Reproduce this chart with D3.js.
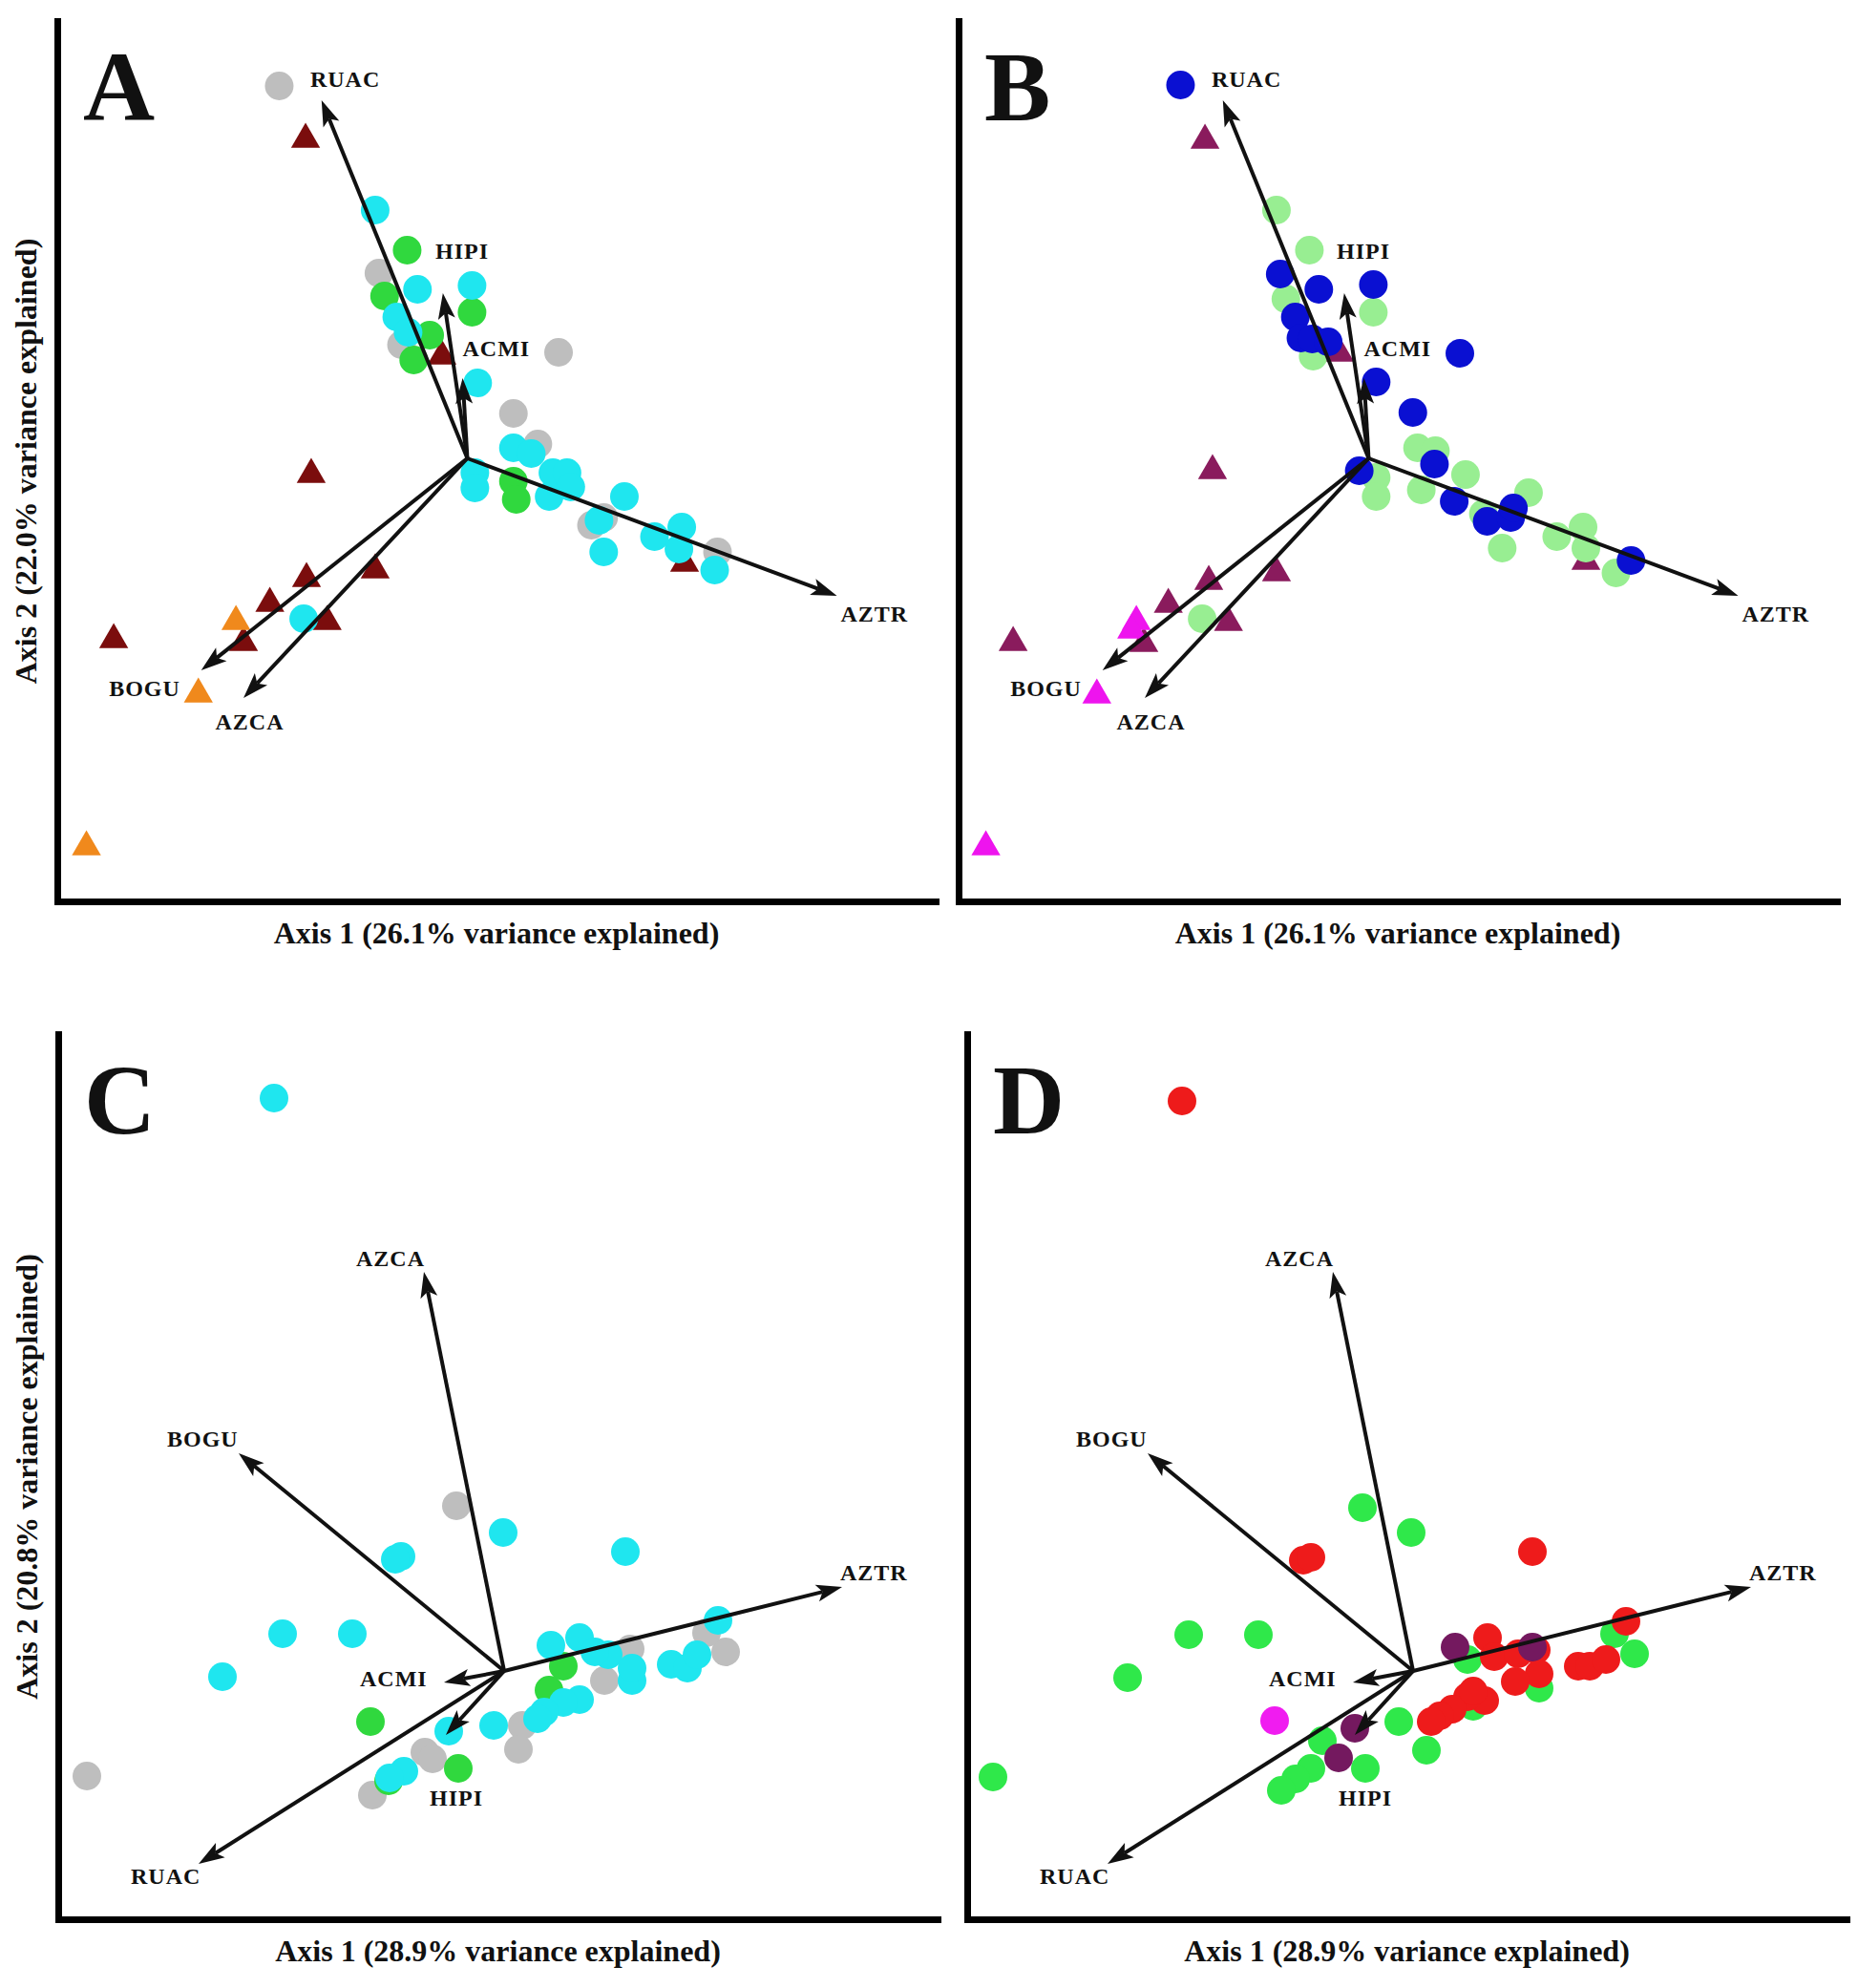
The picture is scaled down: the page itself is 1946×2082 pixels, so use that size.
<!DOCTYPE html>
<html>
<head>
<meta charset="utf-8">
<script src="https://cdn.jsdelivr.net/npm/d3@7"></script>
<style>
  body { margin: 0; background: #fff; }
  text { font-family: "Liberation Serif", "DejaVu Serif", serif; font-weight: bold; fill: #111; }
</style>
</head>
<body>
<svg id="chart"></svg>
<script>
// ordination scores (same ordination for A/B and for C/D)
const abXDomain = [-4.36, 4.98];
const abYDomain = [-4.64, 4.58];
const cdXDomain = [-4.67, 4.54];
const cdYDomain = [-2.60, 6.67];

// species vectors, panels A and B
const abVarNames = ["RUAC", "HIPI", "ACMI", "AZTR", "BOGU", "AZCA"];
const abVecX = [-1.55, -0.26, -0.05, 3.93, -2.83, -2.38];
const abVecY = [3.75, 1.73, 0.84, -1.44, -2.22, -2.51];
const abLabX = [-1.67, -0.34, -0.05, 3.97, -3.81, -2.68];
const abLabY = [3.97, 2.17, 1.15, -1.63, -2.41, -2.76];

// species vectors, panels C and D
const cdVarNames = ["AZCA", "BOGU", "AZTR", "ACMI", "HIPI", "RUAC"];
const cdVecX = [-0.84, -2.78, 3.54, -0.63, -0.61, -3.20];
const cdVecY = [4.18, 2.28, 0.88, -0.12, -0.67, -2.02];
const cdLabX = [-1.55, -3.53, 3.52, -1.51, -0.78, -3.91];
const cdLabY = [4.32, 2.43, 1.03, -0.08, -1.33, -2.15];

// panel A sample scores
const aMaroon = [[-1.72,3.34],[-1.66,-0.17],[-0.98,-1.17],[-1.71,-1.26],[-2.10,-1.52],[-1.49,-1.71],[-2.38,-1.93],[-3.76,-1.90],[-0.27,1.07],[2.31,-1.10]];
const aOrange = [[-2.46,-1.71],[-2.86,-2.47],[-4.05,-4.07]];
const aGrey = [[-2.00,3.90],[-0.94,1.94],[-0.70,1.19],[0.97,1.11],[0.49,0.47],[0.75,0.15],[1.32,-0.70],[1.45,-0.62],[2.66,-0.98]];
const aGreen = [[-0.64,2.18],[0.05,1.53],[-0.88,1.70],[-0.40,1.29],[-0.57,1.03],[0.49,-0.24],[0.52,-0.43]];
const aCyan = [[-0.98,2.60],[-0.53,1.77],[0.05,1.81],[-0.75,1.48],[-0.63,1.32],[0.11,0.79],[0.49,0.11],[0.68,0.05],[0.08,-0.15],[0.08,-0.31],[0.91,-0.15],[1.06,-0.15],[0.87,-0.40],[1.10,-0.30],[1.67,-0.40],[1.40,-0.65],[1.45,-0.98],[1.99,-0.82],[2.28,-0.72],[2.25,-0.95],[2.63,-1.17],[-1.74,-1.68]];

// panel B sample scores
const bPlum = [[-1.74,3.33],[-1.66,-0.13],[-0.98,-1.20],[-1.70,-1.29],[-2.13,-1.53],[-1.49,-1.72],[-2.39,-1.94],[-3.78,-1.93],[-0.31,1.10],[2.31,-1.08]];
const bMagenta = [[-2.47,-1.71],[-2.52,-1.80],[-2.89,-2.48],[-4.07,-4.07]];
const bLightGreen = [[-0.98,2.60],[-0.63,2.18],[0.05,1.53],[-0.88,1.67],[-0.59,1.07],[0.52,0.11],[0.71,0.08],[1.03,-0.17],[0.08,-0.20],[0.08,-0.40],[0.56,-0.33],[1.22,-0.58],[1.70,-0.36],[1.42,-0.94],[2.00,-0.82],[2.28,-0.72],[2.31,-0.94],[2.63,-1.20],[-1.77,-1.68]];
const bBlue = [[-2.00,3.91],[-0.94,1.93],[-0.53,1.77],[0.05,1.82],[-0.78,1.48],[-0.72,1.26],[-0.60,1.25],[-0.43,1.22],[0.97,1.10],[0.08,0.80],[0.47,0.48],[0.70,-0.06],[0.91,-0.45],[1.26,-0.66],[1.51,-0.62],[1.54,-0.52],[2.79,-1.07],[-0.10,-0.13]];

// panel C sample scores
const cGrey = [[-0.50,1.73],[2.32,0.20],[2.12,0.40],[1.32,0.23],[1.05,-0.10],[0.19,-0.57],[0.15,-0.82],[-0.83,-0.85],[-0.75,-0.92],[-1.38,-1.30],[-4.37,-1.10]];
const cGreen = [[-1.40,-0.53],[-0.48,-1.02],[-1.21,-1.15],[0.62,0.05],[0.47,-0.20]];
const cCyan = [[-2.41,6.00],[-0.01,1.45],[1.27,1.25],[-1.08,1.20],[-1.14,1.17],[-2.32,0.39],[-1.59,0.39],[-2.95,-0.06],[0.49,0.27],[0.79,0.35],[1.09,0.17],[0.95,0.20],[1.34,-0.10],[1.34,0.03],[1.75,0.07],[1.92,0.03],[2.02,0.17],[2.24,0.53],[0.79,-0.30],[0.62,-0.33],[0.42,-0.43],[0.35,-0.50],[-0.11,-0.57],[-0.58,-0.63],[-1.05,-1.05],[-1.20,-1.12]];

// panel D sample scores
const dGreen = [[-0.53,1.71],[-0.02,1.45],[-2.35,0.38],[-1.62,0.38],[-2.99,-0.07],[-4.40,-1.11],[2.32,0.18],[2.11,0.39],[0.57,0.12],[1.32,-0.18],[-0.15,-0.53],[0.14,-0.83],[-0.50,-1.02],[-0.95,-0.73],[-1.07,-1.02],[-1.23,-1.13],[-1.38,-1.25],[0.63,-0.37]];
const dRed = [[-2.42,5.97],[-1.15,1.16],[-1.07,1.19],[1.25,1.25],[2.23,0.52],[0.78,0.35],[0.85,0.15],[1.10,0.18],[1.29,0.22],[1.32,-0.03],[1.07,-0.11],[1.73,0.05],[1.85,0.05],[2.02,0.12],[0.75,-0.31],[0.57,-0.27],[0.41,-0.40],[0.28,-0.47],[0.19,-0.53],[0.63,-0.21]];
const dPurple = [[0.44,0.25],[1.25,0.25],[-0.61,-0.60],[-0.78,-0.91]];
const dMagenta = [[-1.45,-0.52]];

const axis1AB = "Axis 1 (26.1% variance explained)";
const axis2AB = "Axis 2 (22.0% variance explained)";
const axis1CD = "Axis 1 (28.9% variance explained)";
const axis2CD = "Axis 2 (20.8% variance explained)";

let svg = d3.select("#chart").attr("width", 1946).attr("height", 2082);

let abVectors = {names: abVarNames, x: abVecX, y: abVecY, lx: abLabX, ly: abLabY};
let cdVectors = {names: cdVarNames, x: cdVecX, y: cdVecY, lx: cdLabX, ly: cdLabY};

let panels = [
  {letter: "A", left: 60, right: 980, top: 22, bottom: 944, xDomain: abXDomain, yDomain: abYDomain,
   xTitle: axis1AB, yTitle: axis2AB, vectors: abVectors,
   groups: [
     {data: aMaroon, shape: "tri", color: "#7B0D0D"},
     {data: aOrange, shape: "tri", color: "#F0891C"},
     {data: aGrey, shape: "dot", color: "#BEBEBE"},
     {data: aGreen, shape: "dot", color: "#30D83E"},
     {data: aCyan, shape: "dot", color: "#1FE6EF"}
   ]},
  {letter: "B", left: 1004, right: 1924, top: 22, bottom: 944, xDomain: abXDomain, yDomain: abYDomain,
   xTitle: axis1AB, yTitle: null, vectors: abVectors,
   groups: [
     {data: bPlum, shape: "tri", color: "#8A1B5D"},
     {data: bMagenta, shape: "tri", color: "#EE14EE"},
     {data: bLightGreen, shape: "dot", color: "#98EE92"},
     {data: bBlue, shape: "dot", color: "#0A10D2"}
   ]},
  {letter: "C", left: 61, right: 982, top: 1083, bottom: 2010, xDomain: cdXDomain, yDomain: cdYDomain,
   xTitle: axis1CD, yTitle: axis2CD, vectors: cdVectors,
   groups: [
     {data: cGrey, shape: "dot", color: "#BEBEBE"},
     {data: cGreen, shape: "dot", color: "#30D83E"},
     {data: cCyan, shape: "dot", color: "#1FE6EF"}
   ]},
  {letter: "D", left: 1013, right: 1934, top: 1083, bottom: 2010, xDomain: cdXDomain, yDomain: cdYDomain,
   xTitle: axis1CD, yTitle: null, vectors: cdVectors,
   groups: [
     {data: dGreen, shape: "dot", color: "#2FE84A"},
     {data: dRed, shape: "dot", color: "#EE1B1B"},
     {data: dPurple, shape: "dot", color: "#74195F"},
     {data: dMagenta, shape: "dot", color: "#F01CF0"}
   ]}
];

let drawPanel = (p) => {
  let x = d3.scaleLinear().domain(p.xDomain).range([p.left, p.right]);
  let y = d3.scaleLinear().domain(p.yDomain).range([p.bottom, p.top]);
  let g = svg.append("g").attr("id", "panel" + p.letter);

//sample points
  p.groups.forEach((grp) => {
    if (grp.shape === "tri") {
      g.append("g").selectAll("path")
       .data(grp.data)
       .enter()
       .append("path")
       .attr("d", d3.symbol(d3.symbolTriangle, 400))
       .attr("transform", (d) => `translate(${x(d[0])},${y(d[1])})`)
       .attr("fill", grp.color)
    } else {
      g.append("g").selectAll("circle")
       .data(grp.data)
       .enter()
       .append("circle")
       .attr("cx", (d) => x(d[0]))
       .attr("cy", (d) => y(d[1]))
       .attr("r", 15)
       .attr("fill", grp.color)
    }
  })

//species vectors with arrow heads
  let v = p.vectors;
  let x0 = x(0), y0 = y(0);
  v.names.forEach((name, i) => {
    let x1 = x(v.x[i]), y1 = y(v.y[i]);
    let len = Math.hypot(x1 - x0, y1 - y0);
    let ux = (x1 - x0) / len, uy = (y1 - y0) / len;
    let headL = 27, headW = 9, notch = 6;
    let bx = x1 - ux * headL, by = y1 - uy * headL;
    let nx = x1 - ux * (headL - notch), ny = y1 - uy * (headL - notch);
    g.append("line")
     .attr("x1", x0).attr("y1", y0)
     .attr("x2", nx).attr("y2", ny)
     .attr("stroke", "#111")
     .attr("stroke-width", 4)
    g.append("path")
     .attr("d", `M${x1},${y1}L${bx - uy * headW},${by + ux * headW}L${nx},${ny}L${bx + uy * headW},${by - ux * headW}Z`)
     .attr("fill", "#111")
    g.append("text")
     .attr("x", x(v.lx[i]))
     .attr("y", y(v.ly[i]))
     .attr("dominant-baseline", "central")
     .attr("font-size", 24)
     .attr("letter-spacing", 1)
     .text(name)
  })

//axes (no ticks)
  let xAxis = d3.axisBottom(x).tickValues([]).tickSizeOuter(0);
  let yAxis = d3.axisLeft(y).tickValues([]).tickSizeOuter(0);
  g.append("g").attr("transform", `translate(0,${p.bottom})`).call(xAxis);
  g.append("g").attr("transform", `translate(${p.left},0)`).call(yAxis);
  g.selectAll(".domain")
   .attr("stroke", "#000")
   .attr("stroke-width", 7)
   .attr("stroke-linecap", "square")

  g.append("text")
   .attr("x", (p.left + p.right) / 2)
   .attr("y", p.bottom + 44)
   .attr("text-anchor", "middle")
   .attr("font-size", 32)
   .text(p.xTitle)

  if (p.yTitle) {
    g.append("text")
     .attr("transform", `translate(${p.left - 22},${(p.top + p.bottom) / 2}) rotate(-90)`)
     .attr("text-anchor", "middle")
     .attr("font-size", 32)
     .text(p.yTitle)
  }

  g.append("text")
   .attr("x", p.left + 27)
   .attr("y", p.top + 104)
   .attr("font-size", 104)
   .attr("fill", "#000")
   .text(p.letter)
}

panels.forEach(drawPanel)
</script>
</body>
</html>
